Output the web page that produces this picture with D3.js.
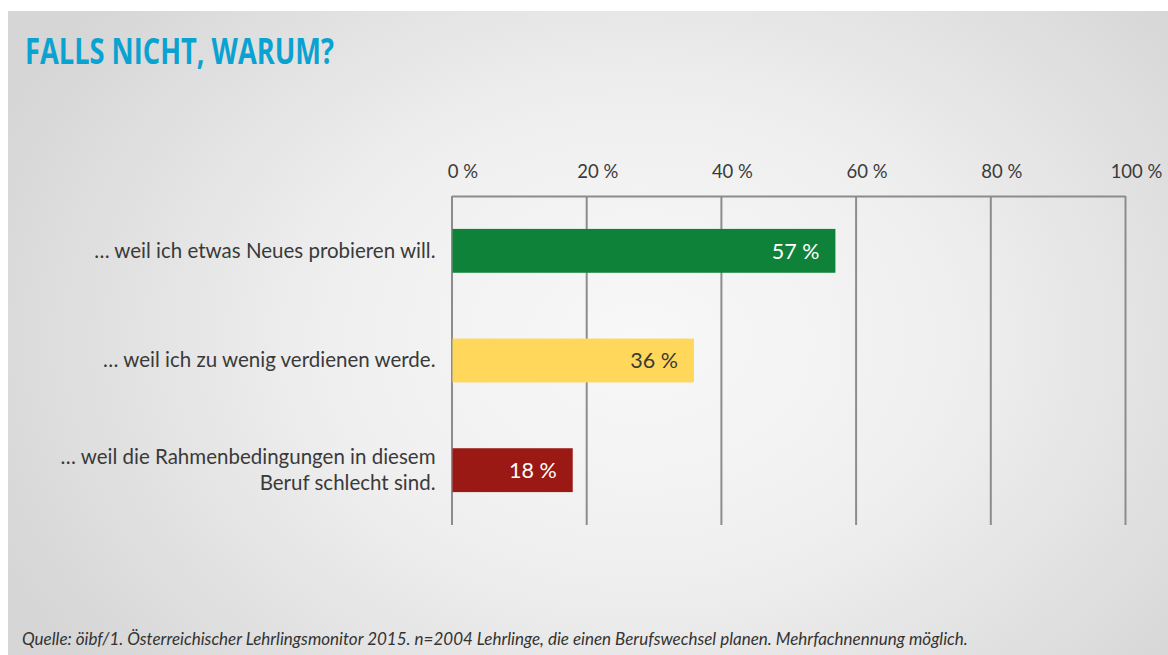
<!DOCTYPE html>
<html>
<head>
<meta charset="utf-8">
<script src="https://cdn.jsdelivr.net/npm/d3@7"></script>
<style>
  body { margin: 0; background: #fff; }
  svg { display: block; }
  .tick text { font-family: "Lato", "Open Sans", sans-serif; font-size: 18.5px; fill: #3a3a3a; }
</style>
</head>
<body>
<div id="wrapper"></div>
<script>
const categories = [
    ["… weil ich etwas Neues probieren will."],
    ["… weil ich zu wenig verdienen werde."],
    ["… weil die Rahmenbedingungen in diesem", "Beruf schlecht sind."]
];
const values = [57, 36, 18];
const barColors = ["#0f8239", "#ffd75b", "#9a1914"];
const valueColors = ["#ffffff", "#3a3a3a", "#ffffff"];
const tickValues = [0, 20, 40, 60, 80, 100];
const title = "FALLS NICHT, WARUM?";
const source = "Quelle: öibf/1. Österreichischer Lehrlingsmonitor 2015. n=2004 Lehrlinge, die einen Berufswechsel planen. Mehrfachnennung möglich.";

const dimension = {
    width: 1168,
    height: 655,
    margin: { top: 196, right: 43, bottom: 130, left: 451.5 }
};
dimension.boundedWidth = dimension.width - dimension.margin.left - dimension.margin.right;
dimension.boundedHeight = dimension.height - dimension.margin.top - dimension.margin.bottom;

const wrapper = d3.select("#wrapper")
    .append("svg")
    .attr("width", dimension.width)
    .attr("height", dimension.height);

// background panel with soft radial light
const defs = wrapper.append("defs");
const grad = defs.append("radialGradient")
    .attr("id", "bg")
    .attr("gradientUnits", "userSpaceOnUse")
    .attr("cx", 640).attr("cy", 340).attr("r", 700)
    .attr("gradientTransform", "translate(640,340) scale(1,0.75) translate(-640,-340)");
grad.append("stop").attr("offset", "0%").attr("stop-color", "#f8f8f8");
grad.append("stop").attr("offset", "45%").attr("stop-color", "#efefef");
grad.append("stop").attr("offset", "100%").attr("stop-color", "#d6d6d6");

wrapper.append("rect")
    .attr("x", 8).attr("y", 11)
    .attr("width", dimension.width - 8)
    .attr("height", dimension.height - 11)
    .attr("fill", "url(#bg)");

wrapper.append("text")
    .attr("x", 25).attr("y", 64)
    .attr("textLength", 309)
    .attr("lengthAdjust", "spacingAndGlyphs")
    .style("font-family", "'Liberation Sans Narrow', 'Open Sans', sans-serif")
    .style("font-weight", "700")
    .style("font-size", "36px")
    .style("fill", "#0aa2d0")
    .text(title);

const bounds = wrapper.append("g")
    .attr("transform", `translate(${dimension.margin.left},${dimension.margin.top})`);

const xScale = d3.scaleLinear()
    .domain([0, 100])
    .range([0, dimension.boundedWidth]);

const yScale = d3.scaleBand()
    .domain(d3.range(values.length))
    .range([0, dimension.boundedHeight])
    .paddingInner(0.6)
    .paddingOuter(0.3);

// grid + tick labels
const xAxis = bounds.append("g")
    .call(d3.axisTop(xScale)
        .tickValues(tickValues)
        .tickFormat(d => d + " %")
        .tickSize(-dimension.boundedHeight)
        .tickSizeOuter(0)
        .tickPadding(18));
xAxis.select(".domain").attr("stroke", "#8c8c8c").attr("stroke-width", 2);
xAxis.selectAll(".tick line").attr("stroke", "#8c8c8c").attr("stroke-width", 2);
xAxis.selectAll(".tick text").attr("dx", 11);

// bars
bounds.selectAll("rect.bar")
    .data(values)
    .enter()
    .append("rect")
    .attr("class", "bar")
    .attr("x", xScale(0) + 1)
    .attr("y", (d, i) => yScale(i))
    .attr("width", d => xScale(d) - xScale(0) - 1)
    .attr("height", yScale.bandwidth())
    .attr("fill", (d, i) => barColors[i]);

// value labels
bounds.selectAll("text.value")
    .data(values)
    .enter()
    .append("text")
    .attr("class", "value")
    .attr("x", d => xScale(d) - 16)
    .attr("y", (d, i) => yScale(i) + yScale.bandwidth() / 2)
    .attr("dy", "0.36em")
    .attr("text-anchor", "end")
    .style("font-family", "Lato, 'Open Sans', sans-serif")
    .style("font-size", "21.5px")
    .style("fill", (d, i) => valueColors[i])
    .text(d => d + " %");

// category labels
const catLabels = bounds.selectAll("text.cat")
    .data(categories)
    .enter()
    .append("text")
    .attr("class", "cat")
    .attr("text-anchor", "end")
    .attr("x", -16)
    .attr("y", (d, i) => yScale(i) + yScale.bandwidth() / 2)
    .style("font-family", "Lato, 'Open Sans', sans-serif")
    .style("font-size", "20.5px")
    .style("fill", "#3a3a3a");

catLabels.selectAll("tspan")
    .data(d => d.map((line, j) => ({ line, j, n: d.length })))
    .enter()
    .append("tspan")
    .attr("x", -16)
    .attr("dy", d => d.j === 0 ? (0.34 - (d.n - 1) * 0.63) + "em" : "1.26em")
    .text(d => d.line);

wrapper.append("text")
    .attr("x", 22).attr("y", 645)
    .style("font-family", "Lato, 'Open Sans', sans-serif")
    .style("font-style", "italic")
    .style("font-size", "17px")
    .style("fill", "#333")
    .text(source);
</script>
</body>
</html>
